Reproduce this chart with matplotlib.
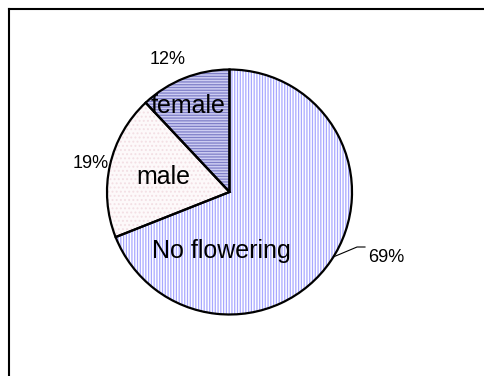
import numpy as np
import matplotlib
import matplotlib.pyplot as plt
from matplotlib.lines import Line2D

matplotlib.rcParams['font.family'] = ['Liberation Sans', 'DejaVu Sans']
matplotlib.rcParams['hatch.linewidth'] = 0.9

# flowering status shares (%)
categories = ['female', 'male', 'No flowering']
shares = [12, 19, 69]

# fill / hatch styling per slice
face_colors = ['#cdcdf2', '#fdf9fa', '#ffffff']
hatch_colors = ['#7f7fc8', '#f3dfe4', '#a8a8ff']
hatches = ['------', '....', '||||||']

# label anchors (angle in degrees, distance in radii)
name_pos = [(115.8, 0.78), (167.3, 0.557), (262.0, 0.49)]
pct_pos = [(115.0, 1.19), (168.6, 1.16), (-22.4, 1.39)]

W, H = 485, 376
cx, cy, R = 229.5, 192.0, 122.5

fig = plt.figure(figsize=(W / 100, H / 100), dpi=100)
ax = fig.add_axes([0, 0, 1, 1])

# hatched fills
wedges, _ = ax.pie(shares, startangle=90, counterclock=True, radius=1,
                   wedgeprops=dict(linewidth=0))
for w, fc, hc, h in zip(wedges, face_colors, hatch_colors, hatches):
    w.set_facecolor(fc)
    w.set_edgecolor(hc)
    w.set_hatch(h)

# black outlines on top
ax.pie(shares, startangle=90, counterclock=True, radius=1,
       wedgeprops=dict(facecolor='none', edgecolor='black', linewidth=1.6))

ax.set_xlim(-cx / R, (W - cx) / R)
ax.set_ylim(-(H - cy) / R, cy / R)
ax.set_aspect('equal')
ax.axis('off')

def polar(a, r):
    t = np.deg2rad(a)
    return r * np.cos(t), r * np.sin(t)

for name, (a, r) in zip(categories, name_pos):
    x, y = polar(a, r)
    ax.text(x, y, name, ha='center', va='center', fontsize=18)

for i, (v, (a, r)) in enumerate(zip(shares, pct_pos)):
    x, y = polar(a, r)
    if i == 2:
        # leader line from the slice edge to the label
        x0, y0 = polar(-32, 1.0)
        ax.plot([x0, 1.041, 1.106], [y0, -0.449, -0.449], color='black', lw=0.8)
        ax.text(1.131, -0.531, f'{v}%', ha='left', va='center', fontsize=13)
    else:
        ax.text(x, y, f'{v}%', ha='center', va='center', fontsize=13)

# chart area border
fig.add_artist(Line2D([9.5 / W, 9.5 / W], [0, 1 - 8.5 / H], color='black', lw=1.5,
                      transform=fig.transFigure))
fig.add_artist(Line2D([9.5 / W, 1], [1 - 8.5 / H, 1 - 8.5 / H], color='black', lw=1.5,
                      transform=fig.transFigure))

plt.savefig('out.png', dpi=100)
